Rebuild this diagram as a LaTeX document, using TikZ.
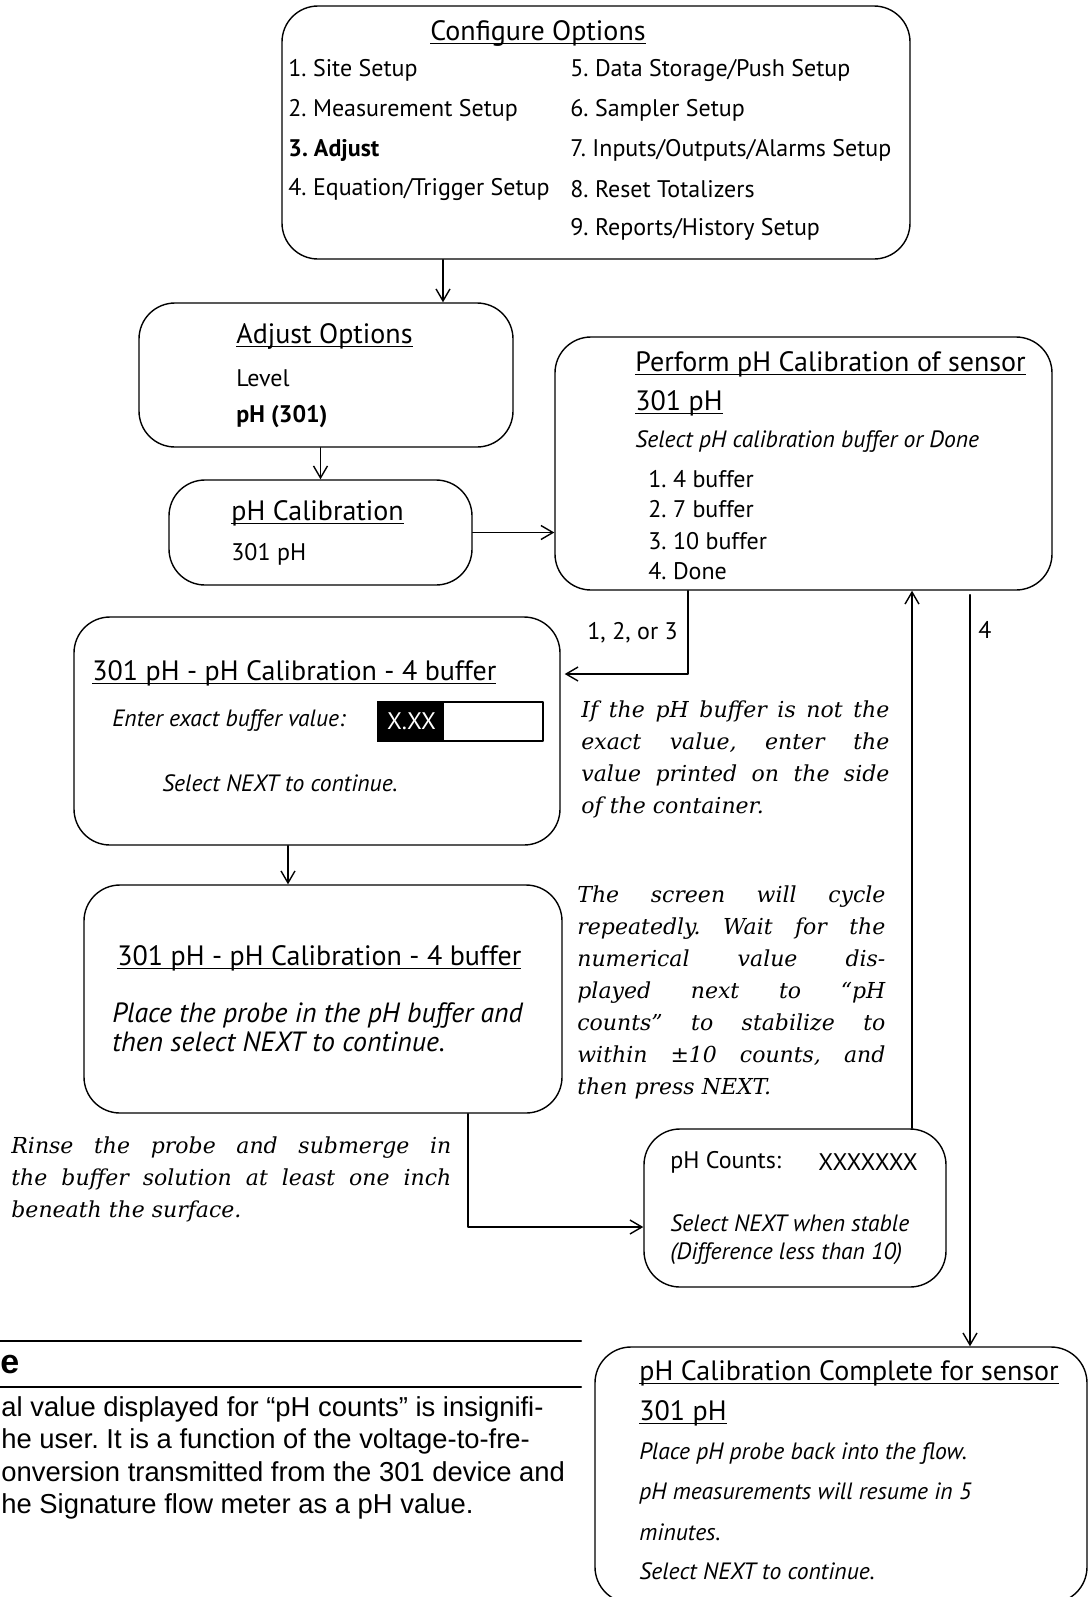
\documentclass[tikz,border=0pt]{standalone}
\usepackage{fontspec}
\usetikzlibrary{arrows.meta}
\newfontfamily\panelfont{PT Sans}
\newfontfamily\remarkfont{DejaVu Serif}
\newfontfamily\notefont{Liberation Sans}
\newcommand{\ulttl}[1]{\underline{\raisebox{0pt}[\height][0pt]{#1}}}
\newlength{\remw}
\newcommand{\remline}[1]{\makebox[\remw][s]{#1}}
\frenchspacing

\begin{document}
\begin{tikzpicture}[x=0.5pt,y=-0.5pt,line cap=round,line join=round,
    panel/.style={draw,line width=0.7pt,rounded corners=18pt,inner sep=0pt},
    item/.style={anchor=west,inner sep=0pt,font=\panelfont\fontsize{12}{14}\selectfont},
    ttl/.style={item,font=\panelfont\fontsize{14}{16}\selectfont},
    hint/.style={anchor=west,inner sep=0pt,font=\panelfont\itshape\fontsize{11.8}{14}\selectfont},
    remark/.style={anchor=north west,inner sep=0pt,align=left,
        font=\remarkfont\itshape\fontsize{11}{16}\selectfont},
    arr/.style={-{Straight Barb[length=6pt,width=7pt]},line width=0.7pt}]
    \useasboundingbox (0,0) rectangle (1089,1597);
    \clip (0,0) rectangle (1089,1597);

    % Menu boxes
    \node[panel,minimum width=314pt,minimum height=126.5pt] (conf) at (596,132.5) {};
    \node[ttl,anchor=center] (conft) at (538,33) {\ulttl{Configure Options}};
    \node[item] (c1) at (288,70) {1. Site Setup};
    \node[item] (c2) at (288,110) {2. Measurement Setup};
    \node[item] (c3) at (288,150) {\bfseries 3. Adjust};
    \node[item] (c4) at (288,189) {4. Equation/Trigger Setup};
    \node[item] (c5) at (570,70) {5. Data Storage/Push Setup};
    \node[item] (c6) at (570,110) {6. Sampler Setup};
    \node[item] (c7) at (570,150) {7. Inputs/Outputs/Alarms Setup};
    \node[item] (c8) at (570,189) {8. Reset Totalizers};
    \node[item] (c9) at (570,229) {9. Reports/History Setup};

    \node[panel,minimum width=187pt,minimum height=72pt] (adj) at (326,375) {};
    \node[ttl] (adjt) at (236,336) {\ulttl{Adjust Options}};
    \node[item] (adj1) at (236,378) {Level};
    \node[item] (adj2) at (236,417) {\bfseries pH (301)};

    \node[panel,minimum width=151.5pt,minimum height=52.5pt] (phcal) at (320.5,532.5) {};
    \node[ttl] (phcalt) at (231,513) {\ulttl{pH Calibration}};
    \node[item] (phcal1) at (231,554) {301 pH};

    \node[panel,minimum width=248.5pt,minimum height=126.5pt] (perf) at (803.5,463.5) {};
    \node[ttl] (perft) at (635,364) {\ulttl{Perform pH Calibration of sensor}};
    \node[ttl] (perfs) at (635,403) {\ulttl{301 pH}};
    \node[hint] (perfh) at (635,442) {Select pH calibration buffer or Done};
    \node[item] (b1) at (648,479) {1. 4 buffer};
    \node[item] (b2) at (648,509) {2. 7 buffer};
    \node[item] (b3) at (648,541) {3. 10 buffer};
    \node[item] (b4) at (648,571) {4. Done};

    % Calibration screens
    \node[panel,minimum width=243pt,minimum height=114pt] (buf1) at (317,731) {};
    \node[ttl] (buf1t) at (92,673) {\ulttl{301 pH - pH Calibration - 4 buffer}};
    \node[hint] (buf1h) at (112,721) {Enter exact buffer value:};
    \node[draw,line width=0.8pt,inner sep=0pt,minimum width=82.5pt,minimum height=19.5pt] (fld) at (460.5,721.5) {};
    \fill (fld.north west) rectangle ([xshift=33.5pt]fld.south west);
    \node[item,anchor=center,text=white] (fldv) at (411.5,721.5) {X.XX};
    \node[hint,anchor=center] (buf1n) at (280,783) {Select NEXT to continue.};

    \node[panel,minimum width=239pt,minimum height=114pt] (buf2) at (323,999) {};
    \node[ttl] (buf2t) at (117,958) {\ulttl{301 pH - pH Calibration - 4 buffer}};
    \node[hint,font=\panelfont\itshape\fontsize{13.9}{14.8}\selectfont,align=left,anchor=north west]
        (buf2h) at (112,1002) {Place the probe in the pH buffer and\\then select NEXT to continue.};

    \node[panel,minimum width=151pt,minimum height=79pt] (cnt) at (795,1208) {};
    \node[item] (cntl) at (670,1162) {pH Counts:};
    \node[item] (cntv) at (818,1162) {XXXXXXX};
    \node[hint] (cnt1) at (670,1223) {Select NEXT when stable};
    \node[hint] (cnt2) at (670,1254) {(Difference less than 10)};

    \node[panel,minimum width=246pt,minimum height=128pt] (done) at (841,1475) {};
    \node[ttl] (donet) at (639,1373) {\ulttl{pH Calibration Complete for sensor}};
    \node[ttl] (dones) at (639,1413) {\ulttl{301 pH}};
    \node[hint] (done1) at (639,1454) {Place pH probe back into the flow.};
    \node[hint] (done2) at (639,1493) {pH measurements will resume in 5};
    \node[hint] (done3) at (639,1532) {minutes.};
    \node[hint] (done4) at (639,1571) {Select NEXT to continue.};

    % Connectors
    \coordinate (xa) at (443,0);
    \coordinate (k1) at (688,674);
    \coordinate (xb) at (912,0);
    \coordinate (xc) at (970,0);
    \coordinate (xd) at (288,0);
    \coordinate (k2) at (468,1227);
    \draw[arr] (conf.south -| xa) -- (adj.north -| xa);
    \draw[arr] (adj.south -| phcal.north) -- (phcal.north);
    \draw[arr] (phcal.east) -- (phcal.east -| perf.west);
    \draw[arr,shorten >=2pt] (perf.south -| k1) |- (buf1.east |- k1);
    \draw[arr] (cnt.north -| xb) -- (perf.south -| xb);
    \draw[arr,shorten <=2pt] (perf.south -| xc) -- (done.north -| xc);
    \draw[arr] (buf1.south -| xd) -- (buf2.north -| xd);
    \draw[arr] (buf2.south -| k2) |- (cnt.west |- k2);
    \node[item] (lab123) at (587,633) {1, 2, or 3};
    \node[item] (lab4) at (978,630) {4};

    % Remarks
    \setlength{\remw}{154pt}
    \node[remark] (rem1) at (581,700) {\remline{If the pH buffer is not the}\\
        \remline{exact value, enter the}\\
        \remline{value printed on the side}\\
        of the container.};
    \node[remark] (rem2) at (577,885) {\remline{The screen will cycle}\\
        \remline{repeatedly. Wait for the}\\
        \remline{numerical value dis-}\\
        \remline{played next to “pH}\\
        \remline{counts” to stabilize to}\\
        \remline{within ±10 counts, and}\\
        then press NEXT.};
    \setlength{\remw}{220pt}
    \node[remark] (rem3) at (11,1136) {\remline{Rinse the probe and submerge in}\\
        \remline{the buffer solution at least one inch}\\
        beneath the surface.};

    % Note
    \draw[line width=1.2pt] (0,1341) -- (581,1341);
    \draw[line width=1.2pt] (0,1387) -- (581,1387);
    \node[anchor=west,inner sep=0pt,font=\notefont\bfseries\fontsize{17}{18}\selectfont] (notet) at (0,1364) {e};
    \node[anchor=north west,inner sep=0pt,align=left,font=\notefont\fontsize{13.7}{16.2}\selectfont]
        (notes) at (1,1396) {al value displayed for “pH counts” is insignifi-\\
        he user. It is a function of the voltage-to-fre-\\
        onversion transmitted from the 301 device and\\
        he Signature flow meter as a pH value.};
\end{tikzpicture}
\end{document}
